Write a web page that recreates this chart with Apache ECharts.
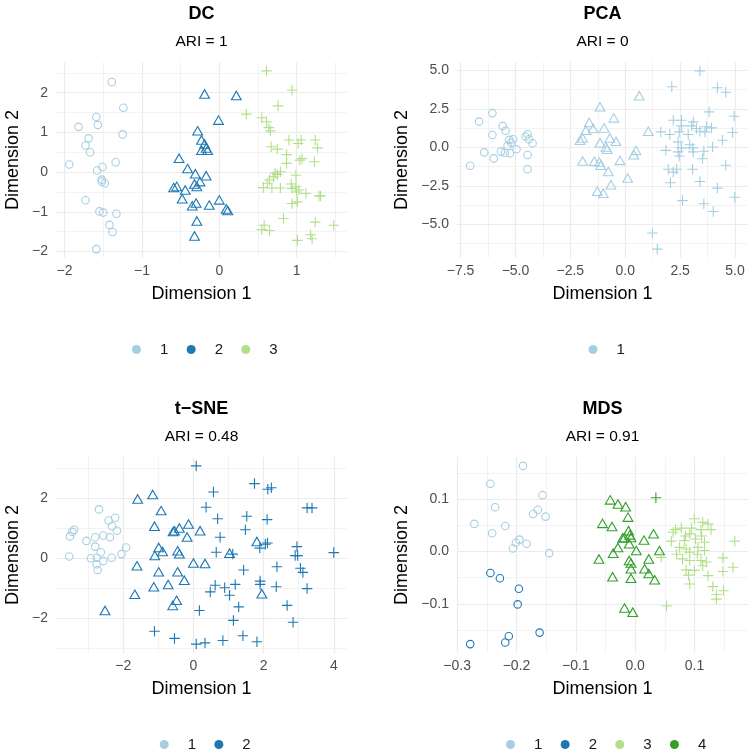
<!DOCTYPE html>
<html>
<head>
<meta charset="utf-8">
<script src="https://cdn.jsdelivr.net/npm/echarts@6/dist/echarts.min.js"></script>
<style>
  html, body { margin: 0; padding: 0; background: #fff; }
  #main { width: 754px; height: 754px; }
</style>
</head>
<body>
<div id="main"></div>
<script>
// cluster colours (RColorBrewer "Paired")
const CLUSTER_COLORS = { 1: '#A6CEE3', 2: '#1F78B4', 3: '#B2DF8A', 4: '#33A02C' }

// DC
const DC_CIRCLE_1 = [[-1.39,2.27],[-1.24,1.62],[-1.59,1.39],[-1.82,1.14],[-1.57,1.19],[-1.25,0.95],[-1.69,0.85],[-1.73,0.67],[-1.67,0.50],[-1.94,0.19],[-1.34,0.25],[-1.58,0.04],[-1.51,0.13],[-1.52,-0.19],[-1.52,-0.24],[-1.48,-0.28],[-1.73,-0.71],[-1.55,-0.99],[-1.50,-1.02],[-1.33,-1.05],[-1.42,-1.33],[-1.38,-1.51],[-1.59,-1.94]]
const DC_TRIANGLE_2 = [[-0.19,1.97],[0.22,1.93],[-0.01,1.31],[-0.28,1.04],[-0.23,0.81],[-0.19,0.71],[-0.17,0.61],[-0.23,0.55],[-0.15,0.55],[-0.52,0.35],[-0.41,0.09],[-0.31,-0.04],[-0.17,-0.09],[-0.25,-0.24],[-0.32,-0.30],[-0.29,-0.36],[-0.59,-0.39],[-0.55,-0.36],[-0.44,-0.45],[-0.48,-0.67],[-0.30,-0.78],[-0.35,-0.85],[-0.13,-0.83],[0.00,-0.70],[0.09,-0.93],[0.11,-0.97],[-0.29,-1.23],[-0.32,-1.61]]
const DC_PLUS_3 = [[0.61,2.55],[0.94,2.07],[0.76,1.67],[0.35,1.46],[0.55,1.37],[0.61,1.27],[0.64,1.12],[0.66,1.04],[0.90,0.81],[1.06,0.81],[1.02,0.72],[1.24,0.81],[1.27,0.61],[0.67,0.64],[0.75,0.58],[0.87,0.44],[0.87,0.22],[1.04,0.30],[1.07,0.34],[1.23,0.26],[0.99,-0.08],[0.75,-0.06],[0.79,0.01],[0.70,-0.12],[0.65,-0.20],[0.57,-0.39],[0.68,-0.40],[0.79,-0.40],[0.94,-0.41],[0.99,-0.37],[1.03,-0.45],[1.12,-0.54],[1.29,-0.60],[1.31,-0.60],[0.94,-0.79],[1.01,-0.75],[0.58,-1.34],[0.55,-1.45],[0.65,-1.47],[0.83,-1.17],[1.24,-1.26],[1.48,-1.34],[1.18,-1.58],[1.20,-1.68],[1.01,-1.72],[0.72,-0.03],[0.93,-0.30],[1.00,-0.50],[0.62,-0.28]]

// PCA
const PCA_CIRCLE_1 = [[-6.05,2.22],[-6.66,1.67],[-5.58,1.39],[-5.45,1.07],[-6.05,0.80],[-6.42,-0.33],[-7.06,-1.20],[-5.99,-0.72],[-4.45,0.85],[-4.54,0.70],[-4.39,0.52],[-4.22,0.26],[-5.28,0.48],[-5.10,0.52],[-5.20,0.30],[-5.36,0.09],[-4.95,-0.13],[-5.66,-0.28],[-5.48,-0.35],[-5.25,-0.39],[-4.45,-0.50],[-4.45,-1.43]]
const PCA_TRIANGLE_1 = [[-1.15,2.63],[0.64,3.35],[-0.52,1.91],[-1.64,1.61],[-1.79,1.11],[-1.46,1.22],[-0.96,1.26],[-2.06,0.46],[-1.94,0.61],[-0.70,0.61],[-0.42,0.39],[-1.15,0.30],[-0.88,0.02],[-0.82,-0.13],[0.49,-0.20],[0.39,-0.48],[1.05,1.04],[-1.94,-0.89],[-1.41,-0.91],[-1.18,-0.96],[-1.12,-1.17],[-0.24,-0.85],[-0.77,-1.57],[0.11,-2.00],[-0.65,-2.43],[-1.27,-2.85],[-1.00,-2.98]]
const PCA_PLUS_1 = [[3.40,4.96],[2.12,3.93],[4.20,3.87],[4.58,3.57],[3.82,2.30],[4.96,2.02],[2.19,1.76],[2.56,1.76],[3.10,1.65],[3.02,1.39],[2.56,1.39],[3.25,1.22],[3.40,1.04],[3.70,1.33],[3.93,1.26],[3.63,1.00],[1.62,1.00],[2.03,0.83],[2.46,1.00],[2.87,0.83],[4.89,0.96],[4.43,0.46],[2.41,0.35],[2.94,0.17],[3.07,-0.04],[2.56,-0.04],[3.98,0.02],[3.58,-0.26],[3.10,-0.30],[1.85,-0.20],[2.41,-0.30],[2.46,-0.57],[3.52,-0.74],[4.58,-1.17],[3.07,-1.43],[1.96,-1.43],[2.19,-1.61],[2.34,-1.43],[3.40,-2.22],[2.06,-2.30],[4.20,-2.65],[4.99,-3.24],[2.61,-3.46],[3.58,-3.67],[4.01,-4.17],[1.24,-5.57],[1.46,-6.61]]

// t-SNE
const TSNE_CIRCLE_1 = [[-2.69,1.64],[-2.42,1.27],[-2.23,1.36],[-2.32,1.08],[-2.18,0.93],[-3.40,0.96],[-3.45,0.89],[-3.52,0.74],[-3.54,0.07],[-3.05,0.59],[-2.80,0.71],[-2.57,0.77],[-2.38,0.71],[-2.80,0.40],[-2.64,0.21],[-1.92,0.37],[-2.05,0.15],[-2.92,0.01],[-2.76,0.03],[-2.57,-0.08],[-2.33,0.03],[-2.76,-0.19],[-2.73,-0.38]]
const TSNE_TRIANGLE_2 = [[-1.59,1.99],[-1.16,2.14],[-0.92,1.60],[-1.11,1.08],[-0.54,0.93],[-0.40,1.02],[-0.14,1.15],[-0.18,0.72],[0.19,0.93],[-0.99,0.37],[-0.88,0.24],[-1.10,0.10],[-0.45,0.26],[-0.40,0.16],[0.00,-0.15],[0.33,-0.16],[-1.61,-0.24],[-0.99,-0.44],[-0.45,-0.44],[-0.26,-0.72],[-1.13,-0.94],[-0.72,-0.86],[-1.67,-1.19],[-0.48,-1.39],[-0.59,-1.56],[-2.52,-1.73],[1.03,0.18],[1.81,0.57],[1.95,-1.17],[-0.58,0.90]]
const TSNE_PLUS_2 = [[0.08,3.09],[1.74,2.50],[2.12,2.31],[2.22,2.36],[0.57,2.22],[0.36,1.71],[0.69,1.33],[1.52,1.41],[2.10,1.30],[1.48,0.96],[3.24,1.69],[3.38,1.69],[0.76,0.71],[2.11,0.52],[2.05,0.48],[1.89,0.35],[0.65,0.21],[1.12,0.15],[2.95,0.40],[2.97,0.10],[2.90,0.10],[4.00,0.20],[1.43,-0.38],[2.38,-0.27],[3.05,-0.32],[3.12,-0.46],[3.24,-1.00],[2.36,-0.94],[1.90,-0.86],[1.90,-0.75],[1.19,-0.86],[0.89,-0.97],[0.62,-0.89],[0.48,-1.11],[1.03,-1.22],[1.29,-1.61],[0.17,-1.73],[2.67,-1.56],[2.84,-2.12],[1.14,-2.06],[1.41,-2.57],[0.84,-2.73],[1.81,-2.77],[0.08,-2.85],[0.33,-2.81],[-1.11,-2.42],[-0.54,-2.66]]

// MDS
const MDS_CIRCLE_1 = [[-0.189,0.164],[-0.244,0.130],[-0.156,0.108],[-0.236,0.085],[-0.271,0.053],[-0.241,0.035],[-0.219,0.049],[-0.164,0.080],[-0.172,0.072],[-0.151,0.067],[-0.195,0.023],[-0.201,0.017],[-0.206,0.006],[-0.183,0.015],[-0.145,-0.003]]
const MDS_CIRCLE_2 = [[-0.244,-0.041],[-0.228,-0.051],[-0.196,-0.071],[-0.198,-0.101],[-0.161,-0.155],[-0.213,-0.162],[-0.219,-0.174],[-0.278,-0.177]]
const MDS_TRIANGLE_4 = [[-0.042,0.099],[-0.029,0.091],[-0.016,0.086],[-0.012,0.066],[-0.055,0.054],[-0.039,0.048],[-0.011,0.040],[-0.018,0.027],[-0.007,0.027],[-0.010,0.015],[0.002,0.002],[0.015,0.022],[0.031,0.034],[0.041,0.002],[-0.029,0.008],[-0.037,-0.003],[-0.061,-0.014],[-0.010,-0.017],[-0.007,-0.022],[0.023,-0.014],[-0.007,-0.033],[0.016,-0.033],[0.023,-0.042],[0.033,-0.054],[-0.007,-0.051],[-0.038,-0.048],[-0.018,-0.108],[-0.004,-0.116],[-0.021,0.026],[-0.009,0.032]]
const MDS_PLUS_3 = [[0.100,0.063],[0.114,0.056],[0.123,0.053],[0.128,0.042],[0.111,0.042],[0.068,0.042],[0.064,0.037],[0.061,0.020],[0.092,0.034],[0.102,0.024],[0.083,0.021],[0.117,0.018],[0.168,0.020],[0.075,0.008],[0.086,0.005],[0.092,-0.001],[0.106,0.008],[0.117,0.002],[0.044,-0.011],[0.080,-0.014],[0.092,-0.017],[0.111,-0.017],[0.148,-0.012],[0.086,-0.035],[0.100,-0.036],[0.114,-0.027],[0.165,-0.030],[0.148,-0.038],[0.123,-0.046],[0.092,-0.062],[0.131,-0.067],[0.149,-0.075],[0.137,-0.091],[0.053,-0.104],[0.085,0.030],[0.095,0.045],[0.070,-0.005],[0.105,-0.005],[0.120,-0.020],[0.090,-0.045],[0.112,0.030],[0.078,0.045],[0.137,-0.082]]
const MDS_PLUS_4 = [[0.035,0.103]]

const SYMBOLS = {
  circle: { symbol: 'circle', size: 7.5 },
  triangle: { symbol: 'triangle', size: [9.8, 8.5] },
  plus: { symbol: 'path://M5 0L5 10M0 5L10 5', size: 10.5 }
}

const panels = [
  { key: 'dc', title: 'DC', ari: 'ARI = 1', left: 56, top: 62, major: 1, minor: 0.5, digits: 0, nameGapY: 34,
    legendLeft: 132, legendTop: 342,
    groups: [[1, 'circle', DC_CIRCLE_1], [2, 'triangle', DC_TRIANGLE_2], [3, 'plus', DC_PLUS_3]], clusters: [1, 2, 3] },
  { key: 'pca', title: 'PCA', ari: 'ARI = 0', left: 457, top: 62, major: 2.5, minor: 1.25, digits: 1, nameGapY: 46,
    legendLeft: 588.5, legendTop: 342,
    groups: [[1, 'circle', PCA_CIRCLE_1], [1, 'triangle', PCA_TRIANGLE_1], [1, 'plus', PCA_PLUS_1]], clusters: [1] },
  { key: 'tsne', title: 't\u2212SNE', ari: 'ARI = 0.48', left: 56, top: 457, major: 2, minor: 1, digits: 0, nameGapY: 34,
    legendLeft: 159.7, legendTop: 737,
    groups: [[1, 'circle', TSNE_CIRCLE_1], [2, 'triangle', TSNE_TRIANGLE_2], [2, 'plus', TSNE_PLUS_2]], clusters: [1, 2] },
  { key: 'mds', title: 'MDS', ari: 'ARI = 0.91', left: 457, top: 457, major: 0.1, minor: 0.05, digits: 1, nameGapY: 46,
    legendLeft: 506, legendTop: 737,
    groups: [[1, 'circle', MDS_CIRCLE_1], [2, 'circle', MDS_CIRCLE_2], [4, 'triangle', MDS_TRIANGLE_4], [3, 'plus', MDS_PLUS_3], [4, 'plus', MDS_PLUS_4]], clusters: [1, 2, 3, 4] }
]

const PW = 291, PH = 196
const FONT = 'Liberation Sans'

// 5% expansion like ggplot
function extentOf(groups, dim) {
  let lo = Infinity, hi = -Infinity
  groups.forEach(g => g[2].forEach(p => { lo = Math.min(lo, p[dim]); hi = Math.max(hi, p[dim]) }))
  const pad = (hi - lo) * 0.05
  return [lo - pad, hi + pad]
}

function fmt(digits) {
  return v => {
    if (Math.abs(v) < 1e-9) v = 0
    return v.toFixed(digits).replace('-', '\u2212')
  }
}

const grid = [], xAxis = [], yAxis = [], series = [], title = [], legend = []

panels.forEach((p, i) => {
  grid.push({ left: p.left, top: p.top, width: PW, height: PH })
  const ex = extentOf(p.groups, 0), ey = extentOf(p.groups, 1)

  // major axis
  const base = {
    gridIndex: i, type: 'value', axisLine: { show: false }, axisTick: { show: false },
    minorTick: { show: false }
  }
  xAxis.push(Object.assign({}, base, {
    min: ex[0], max: ex[1], minInterval: p.major, maxInterval: p.major,
    name: 'Dimension 1', nameLocation: 'middle', nameGap: 27,
    nameTextStyle: { fontSize: 18, color: '#000', fontFamily: FONT },
    axisLabel: { showMinLabel: false, showMaxLabel: false, margin: 6, fontSize: 14, color: '#4D4D4D', fontFamily: FONT, formatter: fmt(p.digits) },
    splitLine: { show: true, showMinLine: false, showMaxLine: false, lineStyle: { color: '#EBEBEB', width: 1.2 } }
  }))
  yAxis.push(Object.assign({}, base, {
    min: ey[0], max: ey[1], minInterval: p.major, maxInterval: p.major,
    name: 'Dimension 2', nameLocation: 'middle', nameGap: p.nameGapY,
    nameTextStyle: { fontSize: 18, color: '#000', fontFamily: FONT },
    axisLabel: { showMinLabel: false, showMaxLabel: false, margin: 8, fontSize: 14, color: '#4D4D4D', fontFamily: FONT, formatter: fmt(p.digits) },
    splitLine: { show: true, showMinLine: false, showMaxLine: false, lineStyle: { color: '#EBEBEB', width: 1.2 } }
  }))
  // minor grid axis
  const minorAxis = ext => Object.assign({}, base, {
    min: ext[0], max: ext[1], minInterval: p.minor, maxInterval: p.minor,
    axisLabel: { show: false }, silent: true,
    splitLine: { show: true, showMinLine: false, showMaxLine: false, lineStyle: { color: '#EBEBEB', width: 0.6 } }
  })
  xAxis.push(minorAxis(ex))
  yAxis.push(minorAxis(ey))

  p.groups.forEach(g => {
    const color = CLUSTER_COLORS[g[0]]
    const s = SYMBOLS[g[1]]
    series.push({
      type: 'scatter', name: p.key + '|' + g[0],
      xAxisIndex: 2 * i, yAxisIndex: 2 * i,
      symbol: s.symbol, symbolSize: s.size,
      itemStyle: { color: 'none', borderColor: color, borderWidth: 1.1, opacity: 1 },
      emphasis: { disabled: true },
      data: g[2]
    })
  })

  title.push({
    text: p.title, subtext: p.ari, left: p.left + PW / 2, top: p.top - 57, textAlign: 'center', padding: 0, itemGap: 11,
    textStyle: { fontSize: 18, fontWeight: 'bold', color: '#000', fontFamily: FONT },
    subtextStyle: { fontSize: 15.5, color: '#000', fontFamily: FONT }
  })

  legend.push({
    data: p.clusters.map(c => ({ name: p.key + '|' + c, icon: 'circle', itemStyle: { color: CLUSTER_COLORS[c], borderWidth: 0 } })),
    left: p.legendLeft, top: p.legendTop, orient: 'horizontal', padding: 0,
    itemWidth: 9, itemHeight: 9, itemGap: 18.3, selectedMode: false,
    formatter: n => n.split('|')[1],
    textStyle: { fontSize: 15, color: '#1A1A1A', fontFamily: FONT, padding: [0, 0, 0, 14] }
  })
})

const chart = echarts.init(document.getElementById('main'), null, { renderer: 'canvas' })
chart.setOption({
  animation: false,
  backgroundColor: '#fff',
  title, legend, grid, xAxis, yAxis, series
})
</script>
</body>
</html>
